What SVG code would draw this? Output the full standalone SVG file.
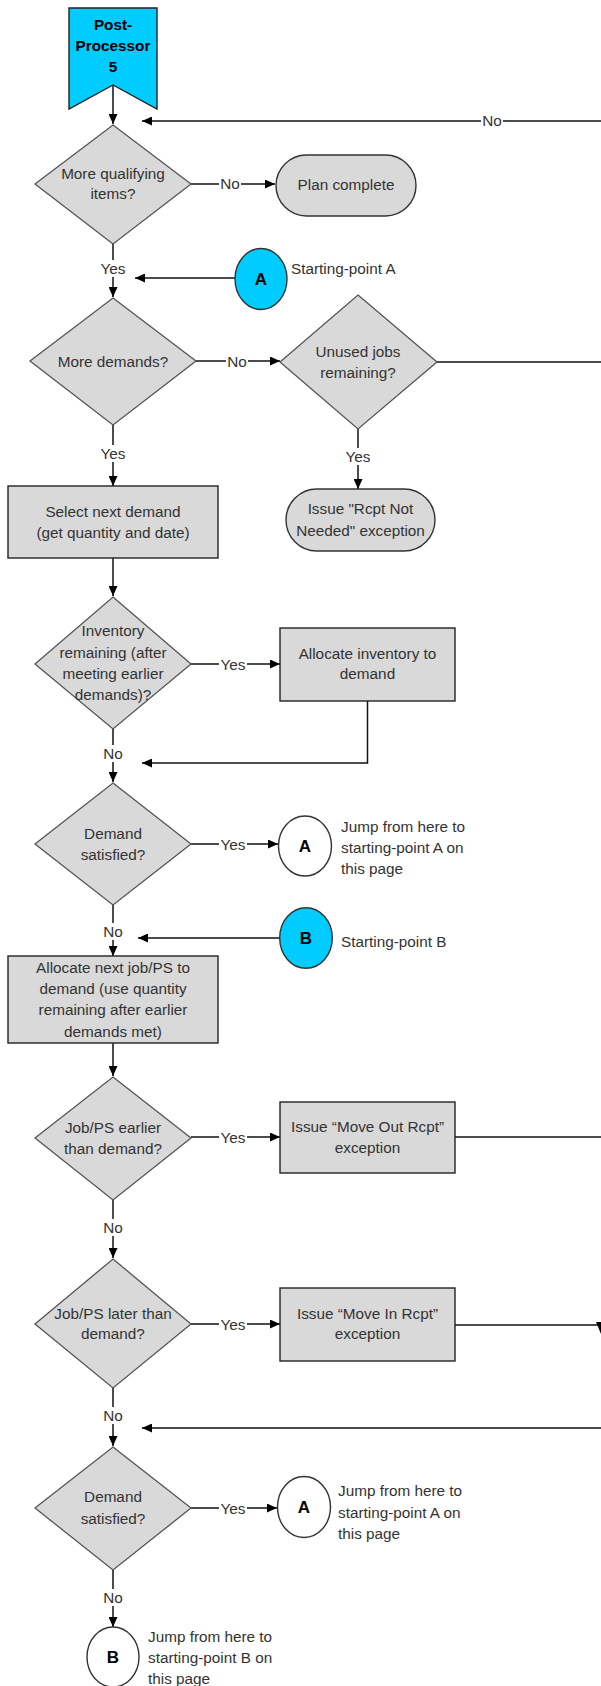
<svg xmlns="http://www.w3.org/2000/svg" width="601" height="1686" viewBox="0 0 601 1686">
<style>
text{font-family:"Liberation Sans",Arial,sans-serif;font-size:15.3px;fill:#333;text-anchor:middle}
.b{font-weight:bold;fill:#000}
.k{font-size:17px}
.l{text-anchor:start}
.dia{fill:#d9d9d9;stroke:#555;stroke-width:1.3}
.box{fill:#d9d9d9;stroke:#222;stroke-width:1.4}
.term{fill:#d9d9d9;stroke:#333;stroke-width:1.4}
.cy{fill:#00ccff;stroke:#333;stroke-width:1.4}
.wc{fill:#fff;stroke:#333;stroke-width:1.4}
.c{fill:none;stroke:#111;stroke-width:1.5}
.bg{fill:#fff}
</style>
<defs>
<marker id="ah" markerUnits="userSpaceOnUse" markerWidth="10" markerHeight="9" refX="10" refY="4.5" orient="auto">
<path d="M0,0 L10,4.5 L0,9 Z" fill="#000"/>
</marker>
</defs>

<g id="connectors">
<path class="c" d="M113,85 V124" marker-end="url(#ah)"/>
<path class="c" d="M601,121 H142" marker-end="url(#ah)"/>
<path class="c" d="M191,184 H275" marker-end="url(#ah)"/>
<path class="c" d="M113,244 V297" marker-end="url(#ah)"/>
<path class="c" d="M235,278 H135" marker-end="url(#ah)"/>
<path class="c" d="M196,361 H280" marker-end="url(#ah)"/>
<path class="c" d="M437,362 H601"/>
<path class="c" d="M358,429 V489" marker-end="url(#ah)"/>
<path class="c" d="M113,425 V486" marker-end="url(#ah)"/>
<path class="c" d="M113,558 V596" marker-end="url(#ah)"/>
<path class="c" d="M191,664 H280" marker-end="url(#ah)"/>
<path class="c" d="M367.5,701 V763 H142" marker-end="url(#ah)"/>
<path class="c" d="M113,729 V782" marker-end="url(#ah)"/>
<path class="c" d="M191,844 H278" marker-end="url(#ah)"/>
<path class="c" d="M113,905 V956" marker-end="url(#ah)"/>
<path class="c" d="M280,938 H138" marker-end="url(#ah)"/>
<path class="c" d="M113,1043 V1076" marker-end="url(#ah)"/>
<path class="c" d="M191,1137 H280" marker-end="url(#ah)"/>
<path class="c" d="M455,1137 H601"/>
<path class="c" d="M113,1200 V1258" marker-end="url(#ah)"/>
<path class="c" d="M191,1324 H280" marker-end="url(#ah)"/>
<path class="c" d="M455,1325 H601"/>
<polygon points="596,1322 601,1322 601,1334" fill="#000"/>
<path class="c" d="M113,1388 V1446" marker-end="url(#ah)"/>
<path class="c" d="M601,1428 H142" marker-end="url(#ah)"/>
<path class="c" d="M191,1508 H277" marker-end="url(#ah)"/>
<path class="c" d="M113,1570 V1627" marker-end="url(#ah)"/>

<g id="labels">
<rect class="bg" x="481" y="113" width="22" height="16"/><text x="492" y="126">No</text>
<rect class="bg" x="219" y="176" width="22" height="16"/><text x="230" y="189">No</text>
<rect class="bg" x="99" y="260" width="28" height="17"/><text x="113" y="274">Yes</text>
<rect class="bg" x="226" y="353" width="22" height="16"/><text x="237" y="367">No</text>
<rect class="bg" x="344" y="448" width="28" height="17"/><text x="358" y="462">Yes</text>
<rect class="bg" x="99" y="445" width="28" height="17"/><text x="113" y="459">Yes</text>
<rect class="bg" x="219" y="656" width="28" height="16"/><text x="233" y="670">Yes</text>
<rect class="bg" x="102" y="745" width="22" height="17"/><text x="113" y="759">No</text>
<rect class="bg" x="219" y="836" width="28" height="16"/><text x="233" y="850">Yes</text>
<rect class="bg" x="102" y="923" width="22" height="17"/><text x="113" y="937">No</text>
<rect class="bg" x="219" y="1129" width="28" height="16"/><text x="233" y="1143">Yes</text>
<rect class="bg" x="102" y="1219" width="22" height="17"/><text x="113" y="1233">No</text>
<rect class="bg" x="219" y="1316" width="28" height="16"/><text x="233" y="1330">Yes</text>
<rect class="bg" x="102" y="1407" width="22" height="17"/><text x="113" y="1421">No</text>
<rect class="bg" x="219" y="1500" width="28" height="16"/><text x="233" y="1514">Yes</text>
<rect class="bg" x="102" y="1589" width="22" height="17"/><text x="113" y="1603">No</text>
</g>
</g>

<g id="start">
<path class="cy" d="M69,8 H157 V109 L113,85 L69,109 Z" style="stroke:#222"/>
<text class="b" x="113" y="29.5">Post-</text>
<text class="b" x="113" y="51">Processor</text>
<text class="b" x="113" y="72">5</text>
</g>

<g id="d1">
<polygon class="dia" points="113,125 191,184 113,244 35,184"/>
<text x="113" y="179">More qualifying</text>
<text x="113" y="199">items?</text>
</g>

<g id="plan-complete">
<rect class="term" x="276" y="155" width="140" height="61" rx="30.5"/>
<text x="346" y="190">Plan complete</text>
</g>

<g id="start-a">
<ellipse class="cy" cx="261" cy="279" rx="26" ry="30.5"/>
<text class="b k" x="261" y="285">A</text>
<text class="l" x="291" y="274">Starting-point A</text>
</g>

<g id="d2">
<polygon class="dia" points="113,298 196,361 113,425 30,361"/>
<text x="113" y="367">More demands?</text>
</g>

<g id="d3">
<polygon class="dia" points="358,295 437,362 358,429 280,362"/>
<text x="358" y="357">Unused jobs</text>
<text x="358" y="378">remaining?</text>
</g>

<g id="rcpt-not-needed">
<rect class="term" x="286" y="489" width="149" height="62" rx="31"/>
<text x="360.5" y="514">Issue "Rcpt Not</text>
<text x="360.5" y="536">Needed" exception</text>
</g>

<g id="select-demand">
<rect class="box" x="8" y="486" width="210" height="72"/>
<text x="113" y="517">Select next demand</text>
<text x="113" y="538">(get quantity and date)</text>
</g>

<g id="d4">
<polygon class="dia" points="113,597 191,664 113,729 35,664"/>
<text x="113" y="636">Inventory</text>
<text x="113" y="658">remaining (after</text>
<text x="113" y="679">meeting earlier</text>
<text x="113" y="700">demands)?</text>
</g>

<g id="allocate-inventory">
<rect class="box" x="280" y="628" width="175" height="73"/>
<text x="367.5" y="659">Allocate inventory to</text>
<text x="367.5" y="679">demand</text>
</g>

<g id="d5">
<polygon class="dia" points="113,783 191,844 113,905 35,844"/>
<text x="113" y="839">Demand</text>
<text x="113" y="860">satisfied?</text>
</g>

<g id="jump-a1">
<ellipse class="wc" cx="305" cy="846" rx="26.5" ry="30"/>
<text class="b k" x="305" y="852">A</text>
<text class="l" x="341" y="832">Jump from here to</text>
<text class="l" x="341" y="853">starting-point A on</text>
<text class="l" x="341" y="874">this page</text>
</g>

<g id="start-b">
<ellipse class="cy" cx="306" cy="938" rx="26.3" ry="30.3"/>
<text class="b k" x="306" y="944">B</text>
<text class="l" x="341" y="947">Starting-point B</text>
</g>

<g id="allocate-job">
<rect class="box" x="8" y="956" width="210" height="87"/>
<text x="113" y="973">Allocate next job/PS to</text>
<text x="113" y="994">demand (use quantity</text>
<text x="113" y="1015">remaining after earlier</text>
<text x="113" y="1037">demands met)</text>
</g>

<g id="d6">
<polygon class="dia" points="113,1077 191,1138 113,1200 35,1138"/>
<text x="113" y="1133">Job/PS earlier</text>
<text x="113" y="1154">than demand?</text>
</g>

<g id="move-out">
<rect class="box" x="280" y="1102" width="175" height="71"/>
<text x="367.5" y="1132">Issue “Move Out Rcpt”</text>
<text x="367.5" y="1153">exception</text>
</g>

<g id="d7">
<polygon class="dia" points="113,1259 191,1324 113,1388 35,1324"/>
<text x="113" y="1319">Job/PS later than</text>
<text x="113" y="1339">demand?</text>
</g>

<g id="move-in">
<rect class="box" x="280" y="1288" width="175" height="73"/>
<text x="367.5" y="1319">Issue “Move In Rcpt”</text>
<text x="367.5" y="1339">exception</text>
</g>

<g id="d8">
<polygon class="dia" points="113,1447 191,1508 113,1570 35,1508"/>
<text x="113" y="1502">Demand</text>
<text x="113" y="1524">satisfied?</text>
</g>

<g id="jump-a2">
<ellipse class="wc" cx="304" cy="1507" rx="26.5" ry="30.5"/>
<text class="b k" x="304" y="1513">A</text>
<text class="l" x="338" y="1496">Jump from here to</text>
<text class="l" x="338" y="1518">starting-point A on</text>
<text class="l" x="338" y="1539">this page</text>
</g>

<g id="jump-b">
<ellipse class="wc" cx="113" cy="1657" rx="26" ry="30"/>
<text class="b k" x="113" y="1663">B</text>
<text class="l" x="148" y="1642">Jump from here to</text>
<text class="l" x="148" y="1663">starting-point B on</text>
<text class="l" x="148" y="1684">this page</text>
</g>
</svg>
